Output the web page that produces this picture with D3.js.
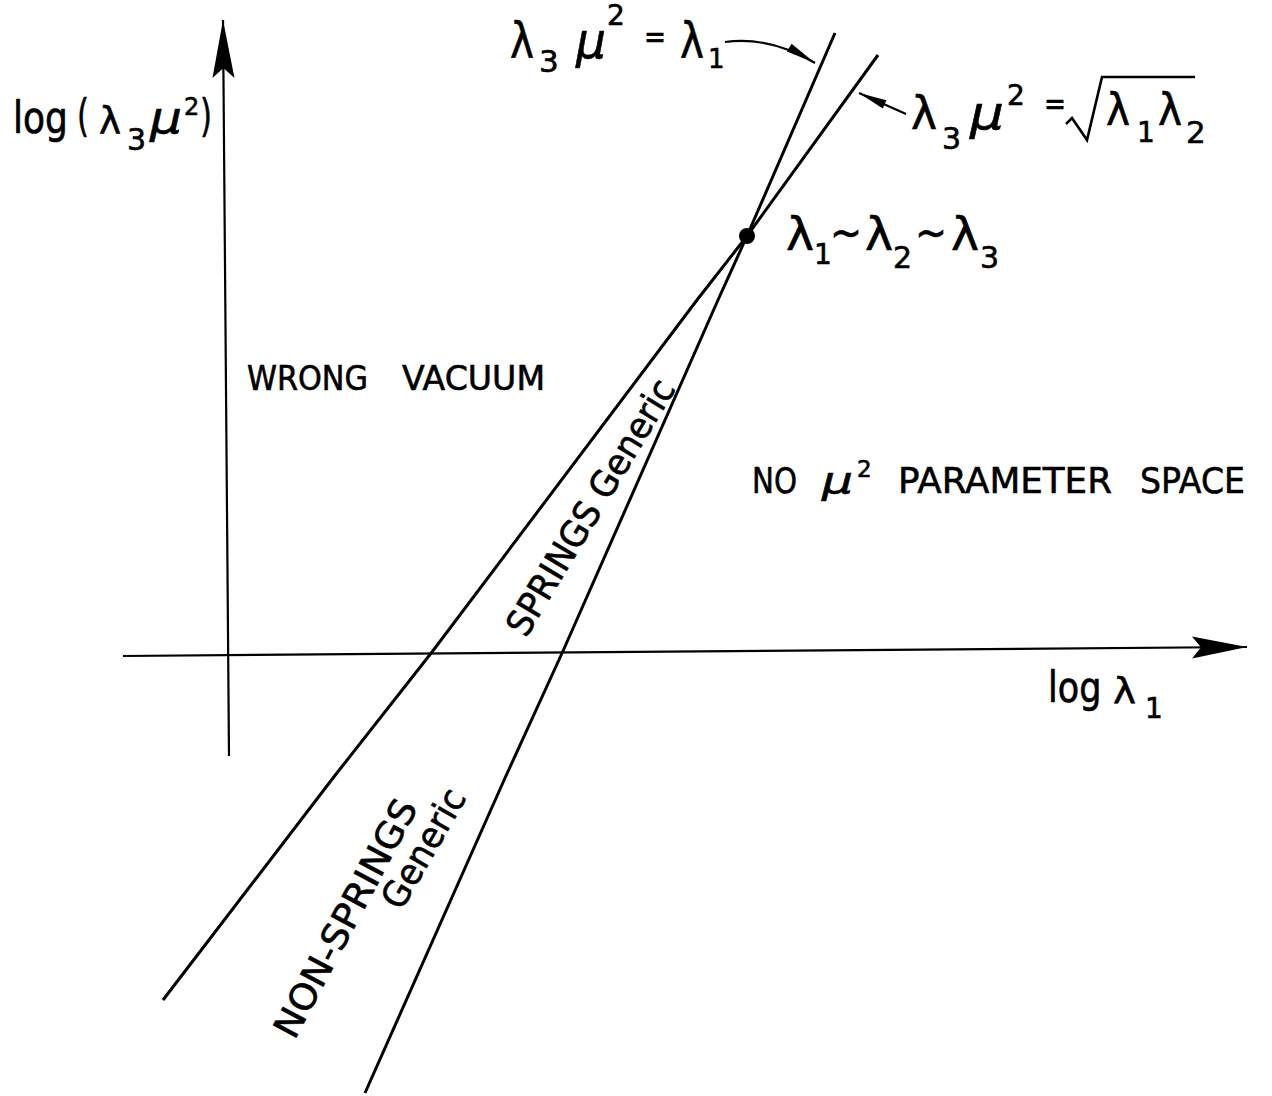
<!DOCTYPE html>
<html>
<head>
<meta charset="utf-8">
<script src="https://cdn.jsdelivr.net/npm/d3@7"></script>
<style>
  html, body { margin: 0; padding: 0; background: #fff; }
  svg { display: block; }
  text { font-family: "DejaVu Sans", sans-serif; fill: #000; stroke: #000; stroke-width: 0.6px; }
</style>
</head>
<body>
<svg id="chart" width="1272" height="1096"></svg>
<script>
// ---- Data (log-log plane: x = log λ1, y = log(λ3 μ²); origin where the axes cross) ----
const xAxisEnds = [[-1.06, -0.01], [10.18, 0.08]];
const yAxisEnds = [[0.00, -1.01], [-0.06, 6.35]];

// boundary λ3 μ² = λ1
const lineEqual = [[1.36, -4.38], [2.76, -1.23], [3.34, 0.04], [4.89, 3.55], [5.18, 4.19], [6.06, 6.22]];
// boundary λ3 μ² = sqrt(λ1 λ2)
const lineRoot = [[-0.66, -3.45], [1.04, -1.23], [2.03, 0.03], [4.68, 3.55], [5.18, 4.19], [6.49, 6.00]];
// point where λ1 ~ λ2 ~ λ3
const meetPoint = [5.18, 4.19];

// region names
const regionLabels = ["WRONG VACUUM", "NO μ² PARAMETER SPACE"];
const wedgeLabels = ["SPRINGS Generic", "NON-SPRINGS", "Generic"];

// ---- Scales ----
const W = 1272, H = 1096;
const x = d3.scaleLinear().domain([-2.29, 10.43]).range([0, W]);
const y = d3.scaleLinear().domain([-4.41, 6.55]).range([H, 0]);

const svg = d3.select("#chart");
svg.append("rect").attr("width", W).attr("height", H).attr("fill", "#fff");

const P = d => [x(d[0]), y(d[1])];

function headPath(tip, from, len, half, notch) {
  const dx = tip[0] - from[0], dy = tip[1] - from[1];
  const L = Math.hypot(dx, dy), ux = dx / L, uy = dy / L, nx = -uy, ny = ux;
  const bx = tip[0] - ux * len, by = tip[1] - uy * len;
  const p1 = [bx + nx * half, by + ny * half];
  const p2 = [bx - nx * half, by - ny * half];
  const pn = [tip[0] - ux * (len - notch), tip[1] - uy * (len - notch)];
  return `M${tip}L${p1}L${pn}L${p2}Z`;
}

// ---- Axes ----
function axis(ends, len, half, notch) {
  const a = P(ends[0]), b = P(ends[1]);
  svg.append("line").attr("x1", a[0]).attr("y1", a[1]).attr("x2", b[0]).attr("y2", b[1])
    .attr("stroke", "#000").attr("stroke-width", 2.2);
  svg.append("path").attr("d", headPath(b, a, len, half, notch)).attr("fill", "#000");
}
axis(xAxisEnds, 55, 11, 9);
axis(yAxisEnds, 58, 11, 10);

// ---- Boundary lines ----
const line = d3.line().x(d => x(d[0])).y(d => y(d[1]));
[lineEqual, lineRoot].forEach(pts => {
  svg.append("path").attr("d", line(pts)).attr("fill", "none")
    .attr("stroke", "#000").attr("stroke-width", 3).attr("stroke-linejoin", "round");
});
svg.append("circle").attr("cx", x(meetPoint[0])).attr("cy", y(meetPoint[1])).attr("r", 8).attr("fill", "#000");

// ---- Formula labels: anchor in plot units, glyph offsets in px ----
function formula(anchor, pieces, extra) {
  const g = svg.append("g").attr("transform", `translate(${x(anchor[0])},${y(anchor[1])})`);
  pieces.forEach(p => {
    const t = g.append("text").attr("x", p[1]).attr("y", p[2]).attr("font-size", p[3]).text(p[0]);
    if (p[4]) t.attr("textLength", p[4]).attr("lengthAdjust", "spacingAndGlyphs");
    if (p[5]) t.attr("font-style", "italic");
  });
  if (extra) extra(g);
  return g;
}
// tall narrow "log" lettering
function tallLog(g, dx, size) {
  g.append("text").attr("transform", `translate(${dx},0) scale(1,1.22)`)
    .attr("font-size", size).text("log");
}

// λ3 μ² = λ1
formula([2.81, 5.97], [
  ["λ", 0, 0, 50, 24],
  ["3", 29, 14, 31],
  ["μ", 66, 0, 50, 30, true],
  ["2", 97, -33, 28],
  ["=", 134, -10, 32, 22],
  ["λ", 170, 0, 50, 24],
  ["1", 198, 10, 26]
]);

// λ3 μ² = √(λ1 λ2)
formula([6.82, 5.26], [
  ["λ", 0, 0, 46, 26],
  ["3", 31, 20, 30],
  ["μ", 59, 0, 46, 34, true],
  ["2", 96, -24, 28],
  ["=", 133, -14, 32, 22],
  ["λ", 195, -4, 44, 24],
  ["1", 226, 13, 28],
  ["λ", 247, -4, 44, 24],
  ["2", 275, 14, 31]
], g => {
  g.append("path").attr("d", "M155,-5L161,-11L176,11L191,-52H284")
    .attr("fill", "none").attr("stroke", "#000").attr("stroke-width", 2.6).attr("stroke-linejoin", "miter");
});

// λ1 ~ λ2 ~ λ3
formula([5.57, 4.05], [
  ["λ", 0, 0, 46, 28],
  ["1", 28, 14, 28],
  ["~", 44, -2, 44, 32],
  ["λ", 79, 0, 46, 28],
  ["2", 107, 18, 30],
  ["~", 129, -2, 44, 32],
  ["λ", 165, 0, 46, 28],
  ["3", 194, 18, 30]
]);

// y-axis title: log(λ3 μ²)
formula([-2.16, 5.22], [
  ["(", 64, -2, 44, 12],
  ["λ", 86, 0, 38, 22],
  ["3", 114, 17, 30],
  ["μ", 137, 0, 44, 32, true],
  ["2", 171, -18, 24],
  [")", 187, -2, 44, 12]
], g => tallLog(g, 0, 36));

// x-axis title: log λ1
formula([8.19, -0.47], [
  ["λ", 65, 1, 36, 23],
  ["1", 97, 16, 28]
], g => tallLog(g, 0, 35));

// region names
const wrong = regionLabels[0].split(" ");
formula([0.18, 2.65], [
  [wrong[0], 0, 0, 33, 121],
  [wrong[1], 155, 0, 33, 143]
]);
const none = regionLabels[1].split(" ");
formula([5.23, 1.62], [
  [none[0], 0, 0, 36, 45],
  ["μ", 70, 0, 38, 31, true],
  ["2", 105, -16, 23],
  [none[2], 146, 0, 36, 214],
  [none[3], 388, 0, 36, 105]
]);

// rotated wedge labels
function rotated(pos, angle, text, len) {
  const p = P(pos);
  svg.append("text").attr("transform", `translate(${p[0]},${p[1]}) rotate(${angle})`)
    .attr("text-anchor", "middle").attr("dy", "0.36em").attr("font-size", 36)
    .attr("textLength", len).attr("lengthAdjust", "spacingAndGlyphs").text(text);
}
rotated([3.61, 1.48], -59, wedgeLabels[0], 292);
rotated([1.16, -2.63], -62, wedgeLabels[1], 264);
rotated([1.94, -1.93], -60, wedgeLabels[2], 132);

// ---- Pointer arrows to the boundary lines ----
const a1 = [[4.96, 6.13], [5.41, 6.19], [5.86, 5.92]].map(P);
svg.append("path").attr("d", `M${a1[0]}Q${a1[1]} ${a1[2]}`).attr("fill", "none")
  .attr("stroke", "#000").attr("stroke-width", 2.2);
svg.append("path").attr("d", headPath(a1[2], a1[1], 30, 4.5, 0)).attr("fill", "#000");

const a2 = [[6.77, 5.41], [6.30, 5.62]].map(P);
svg.append("line").attr("x1", a2[0][0]).attr("y1", a2[0][1]).attr("x2", a2[1][0]).attr("y2", a2[1][1])
  .attr("stroke", "#000").attr("stroke-width", 2.2);
svg.append("path").attr("d", headPath(a2[1], a2[0], 28, 4.5, 0)).attr("fill", "#000");
</script>
</body>
</html>
